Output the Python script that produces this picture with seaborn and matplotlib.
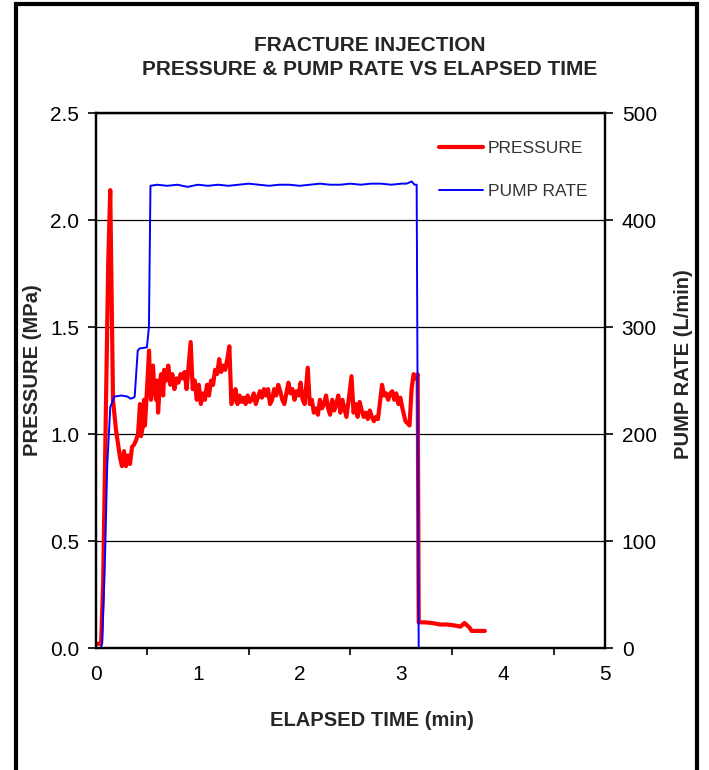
import numpy as np
import pandas as pd
import matplotlib
matplotlib.use("Agg")
import matplotlib.pyplot as plt
from matplotlib.lines import Line2D
from matplotlib.patches import Rectangle
from matplotlib.ticker import MultipleLocator
import seaborn as sns

# pressure trace (MPa) vs elapsed time (min)
p_time = [0.00, 0.05, 0.07, 0.10, 0.12, 0.14, 0.155, 0.167, 0.196, 0.236, 0.255,
          0.275, 0.295, 0.314, 0.334, 0.354, 0.373, 0.393, 0.413, 0.432, 0.442,
          0.462, 0.472, 0.481, 0.501, 0.521, 0.530, 0.540, 0.560, 0.570, 0.590,
          0.600, 0.610, 0.630, 0.640, 0.660, 0.670, 0.690, 0.710, 0.730, 0.750,
          0.770, 0.790, 0.810, 0.830, 0.850, 0.870, 0.890, 0.930, 0.950, 0.970,
          0.990, 1.010, 1.030, 1.050, 1.070, 1.090, 1.110, 1.130, 1.150, 1.170,
          1.190, 1.210, 1.230, 1.250, 1.270, 1.290, 1.310, 1.330, 1.350, 1.370,
          1.390, 1.410, 1.430, 1.450, 1.470, 1.490, 1.510, 1.530, 1.550, 1.570,
          1.590, 1.610, 1.630, 1.650, 1.670, 1.690, 1.710, 1.730, 1.750, 1.770,
          1.790, 1.810, 1.830, 1.850, 1.870, 1.890, 1.910, 1.930, 1.950, 1.970,
          1.990, 2.010, 2.030, 2.050, 2.080, 2.100, 2.120, 2.140, 2.160, 2.180,
          2.200, 2.220, 2.240, 2.260, 2.280, 2.300, 2.320, 2.340, 2.360, 2.380,
          2.400, 2.420, 2.440, 2.460, 2.480, 2.510, 2.530, 2.550, 2.570, 2.590,
          2.610, 2.630, 2.650, 2.670, 2.690, 2.710, 2.730, 2.750, 2.770, 2.810,
          2.830, 2.850, 2.870, 2.890, 2.910, 2.930, 2.950, 2.970, 2.990, 3.010,
          3.040, 3.080, 3.100, 3.120, 3.140, 3.160, 3.170, 3.230, 3.300, 3.380,
          3.450, 3.530, 3.580, 3.620, 3.670, 3.690, 3.820]
pressure = [0.02, 0.02, 0.30, 1.20, 1.80, 2.14, 1.60, 1.16, 1.02, 0.89, 0.85,
            0.92, 0.85, 0.90, 0.86, 0.94, 0.95, 0.97, 1.00, 1.14, 0.99,
            1.04, 1.16, 1.04, 1.21, 1.39, 1.25, 1.16, 1.32, 1.23, 1.16,
            1.25, 1.10, 1.25, 1.28, 1.18, 1.30, 1.25, 1.32, 1.23, 1.28,
            1.21, 1.26, 1.24, 1.28, 1.26, 1.29, 1.21, 1.43, 1.21, 1.25,
            1.16, 1.23, 1.14, 1.19, 1.16, 1.23, 1.18, 1.25, 1.23, 1.30,
            1.28, 1.35, 1.29, 1.32, 1.30, 1.35, 1.41, 1.14, 1.16, 1.21,
            1.14, 1.18, 1.15, 1.17, 1.14, 1.18, 1.15, 1.16, 1.19, 1.14,
            1.17, 1.20, 1.17, 1.21, 1.18, 1.21, 1.14, 1.16, 1.21, 1.18,
            1.23, 1.20, 1.16, 1.14, 1.19, 1.24, 1.19, 1.21, 1.16, 1.20,
            1.18, 1.24, 1.16, 1.14, 1.31, 1.14, 1.16, 1.10, 1.12, 1.09,
            1.16, 1.12, 1.14, 1.18, 1.12, 1.09, 1.16, 1.11, 1.14, 1.18,
            1.10, 1.16, 1.12, 1.08, 1.15, 1.27, 1.10, 1.14, 1.08, 1.15,
            1.11, 1.08, 1.10, 1.07, 1.11, 1.08, 1.06, 1.08, 1.07, 1.23,
            1.18, 1.19, 1.16, 1.19, 1.20, 1.16, 1.19, 1.14, 1.17, 1.12,
            1.06, 1.04, 1.21, 1.28, 1.26, 1.28, 0.12, 0.12, 0.117, 0.11,
            0.11, 0.105, 0.10, 0.117, 0.095, 0.08, 0.08]

# pump rate trace (L/min) vs elapsed time (min)
q_time = [0.00, 0.05, 0.06, 0.09, 0.11, 0.14, 0.18, 0.25, 0.31, 0.34, 0.37,
          0.38, 0.41, 0.43, 0.50, 0.52, 0.535, 0.60, 0.70, 0.80, 0.90, 1.00,
          1.10, 1.20, 1.30, 1.40, 1.50, 1.60, 1.70, 1.80, 1.90, 2.00, 2.10,
          2.20, 2.30, 2.40, 2.50, 2.60, 2.70, 2.80, 2.90, 3.00, 3.05, 3.10,
          3.13, 3.15, 3.17]
pump_rate = [0, 0, 5, 90, 170, 225, 235, 236, 235, 233, 234,
             235, 278, 280, 281, 300, 432, 433, 432, 433, 431, 433,
             432, 433, 432, 433, 434, 433, 432, 433, 433, 432, 433,
             434, 433, 433, 434, 433, 434, 434, 433, 434, 434, 436,
             433, 433, 0]

p_df = pd.DataFrame({"time": p_time, "value": pressure})
q_df = pd.DataFrame({"time": q_time, "value": pump_rate})

sns.set_style("white")
plt.rcParams['font.family'] = ['Liberation Sans', 'DejaVu Sans']

fig = plt.figure(figsize=(7.09, 7.70), dpi=100)
ax = fig.add_axes([0.1354, 0.1584, 0.7179, 0.6948])
ax2 = ax.twinx()

sns.lineplot(data=p_df, x="time", y="value", ax=ax, color="#ff0000",
             linewidth=3.0, sort=False, estimator=None, legend=False)
sns.lineplot(data=q_df, x="time", y="value", ax=ax2, color="#0000ff",
             linewidth=1.4, sort=False, estimator=None, legend=False)

ax.set_xlim(0, 5)
ax.set_ylim(0, 2.5)
ax2.set_ylim(0, 500)
ax.xaxis.set_major_locator(MultipleLocator(1))
ax.xaxis.set_minor_locator(MultipleLocator(0.5))
ax.yaxis.set_major_locator(MultipleLocator(0.5))
ax2.yaxis.set_major_locator(MultipleLocator(100))
ax.yaxis.set_major_formatter(matplotlib.ticker.FormatStrFormatter("%.1f"))

ax.grid(axis="y", color="black", linewidth=0.9)
ax.grid(axis="x", visible=False)
ax.set_axisbelow(True)

for a in (ax, ax2):
    for s in a.spines.values():
        s.set_color("black")
        s.set_linewidth(1.6)
ax.tick_params(axis="both", which="both", direction="out", color="black",
               labelsize=15, labelcolor="black", width=1.2)
ax.tick_params(axis="both", which="major", length=6, pad=6)
ax.tick_params(axis="x", which="minor", length=5, width=1.2, bottom=True)
ax.tick_params(axis="y", left=True)
ax2.tick_params(axis="y", direction="out", right=True, length=6, width=1.2,
                labelsize=15, labelcolor="black", color="black", pad=6)

ax.set_xlabel("ELAPSED TIME (min)", fontsize=14.5, fontweight="bold")
ax.set_ylabel("PRESSURE (MPa)", fontsize=14.5, fontweight="bold")
ax2.set_ylabel("PUMP RATE (L/min)", fontsize=14.5, fontweight="bold")
ax.xaxis.set_label_coords(0.543, -0.117)
ax.yaxis.set_label_coords(-0.106, 0.52)
ax2.yaxis.set_label_coords(1.136, 0.53)

handles = [Line2D([], [], color="#ff0000", linewidth=3.0),
           Line2D([], [], color="#0000ff", linewidth=1.4)]
ax2.legend(handles, ["PRESSURE", "PUMP RATE"], loc="upper right",
           bbox_to_anchor=(0.996, 0.978), frameon=False, fontsize=12.5,
           labelcolor="#333333", handlelength=2.5, handletextpad=0.3,
           labelspacing=1.65)

fig.text(0.521, 0.941, "FRACTURE INJECTION", ha="center", va="center",
         fontsize=15, fontweight="bold")
fig.text(0.521, 0.910, "PRESSURE & PUMP RATE VS ELAPSED TIME", ha="center",
         va="center", fontsize=15, fontweight="bold")

fig.patches.append(Rectangle((15.5 / 709, -0.05), (697 - 15.5) / 709,
                             1.05 - 4.5 / 770, transform=fig.transFigure,
                             fill=False, edgecolor="black", linewidth=3))

fig.savefig("out.png", dpi=100)
